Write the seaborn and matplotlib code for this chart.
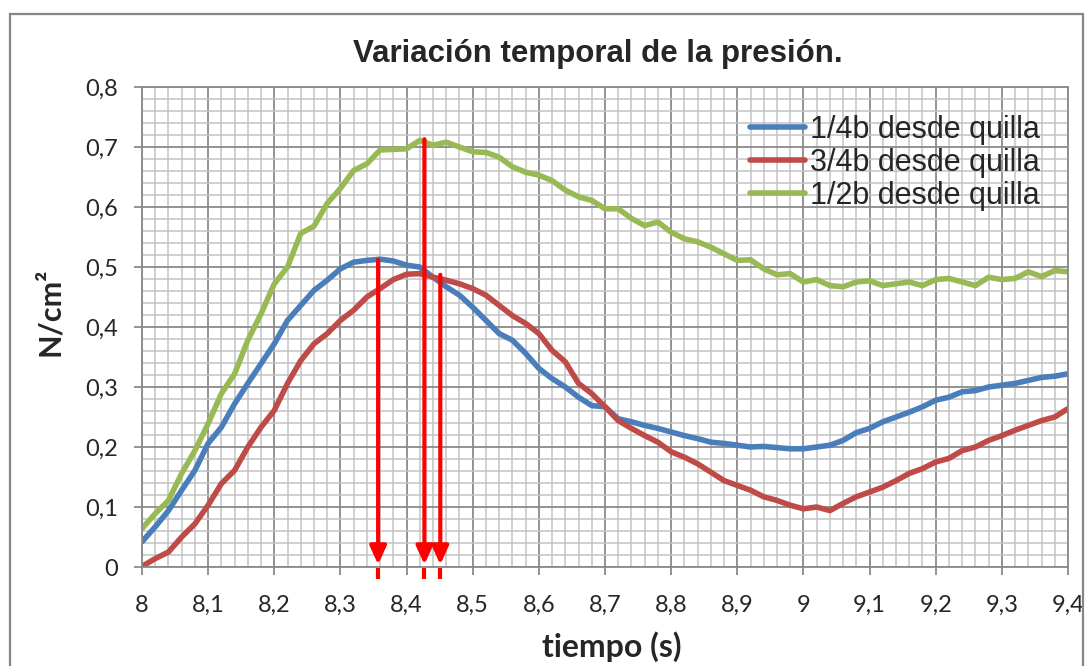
import numpy as np
import pandas as pd
import matplotlib
matplotlib.use("Agg")
import matplotlib.pyplot as plt
import matplotlib.patches as mpatches
from matplotlib.ticker import MultipleLocator, FuncFormatter
import seaborn as sns

# ---------------- data ----------------
tiempo = [8.00, 8.02, 8.04, 8.06, 8.08, 8.10, 8.12, 8.14, 8.16, 8.18,
          8.20, 8.22, 8.24, 8.26, 8.28, 8.30, 8.32, 8.34, 8.36, 8.38,
          8.40, 8.42, 8.44, 8.46, 8.48, 8.50, 8.52, 8.54, 8.56, 8.58,
          8.60, 8.62, 8.64, 8.66, 8.68, 8.70, 8.72, 8.74, 8.76, 8.78,
          8.80, 8.82, 8.84, 8.86, 8.88, 8.90, 8.92, 8.94, 8.96, 8.98,
          9.00, 9.02, 9.04, 9.06, 9.08, 9.10, 9.12, 9.14, 9.16, 9.18,
          9.20, 9.22, 9.24, 9.26, 9.28, 9.30, 9.32, 9.34, 9.36, 9.38,
          9.40]

p_cuarto = [0.042, 0.067, 0.094, 0.128, 0.161, 0.206, 0.233, 0.272, 0.306, 0.339,
            0.372, 0.411, 0.436, 0.461, 0.478, 0.497, 0.508, 0.511, 0.513, 0.510,
            0.503, 0.500, 0.483, 0.467, 0.453, 0.433, 0.411, 0.389, 0.378, 0.356,
            0.331, 0.314, 0.300, 0.283, 0.269, 0.267, 0.247, 0.242, 0.236, 0.231,
            0.225, 0.219, 0.214, 0.208, 0.206, 0.203, 0.200, 0.201, 0.199, 0.197,
            0.197, 0.200, 0.203, 0.211, 0.224, 0.231, 0.242, 0.250, 0.258, 0.267,
            0.278, 0.283, 0.292, 0.294, 0.300, 0.303, 0.306, 0.311, 0.316, 0.318,
            0.322]

p_tres_cuartos = [0.001, 0.014, 0.025, 0.050, 0.072, 0.103, 0.139, 0.161, 0.200, 0.233,
                  0.261, 0.306, 0.344, 0.372, 0.389, 0.411, 0.428, 0.450, 0.464, 0.479,
                  0.488, 0.489, 0.483, 0.478, 0.472, 0.464, 0.453, 0.436, 0.419, 0.406,
                  0.389, 0.361, 0.342, 0.306, 0.289, 0.267, 0.244, 0.231, 0.219, 0.208,
                  0.192, 0.183, 0.172, 0.158, 0.144, 0.136, 0.128, 0.117, 0.111, 0.103,
                  0.097, 0.100, 0.094, 0.106, 0.117, 0.125, 0.133, 0.144, 0.156, 0.164,
                  0.175, 0.181, 0.194, 0.200, 0.211, 0.219, 0.228, 0.236, 0.244, 0.250,
                  0.264]

p_medio = [0.064, 0.089, 0.111, 0.156, 0.194, 0.239, 0.289, 0.322, 0.378, 0.422,
           0.472, 0.500, 0.556, 0.568, 0.606, 0.631, 0.661, 0.672, 0.695, 0.696,
           0.697, 0.711, 0.703, 0.708, 0.700, 0.692, 0.691, 0.683, 0.667, 0.658,
           0.653, 0.644, 0.628, 0.617, 0.611, 0.597, 0.597, 0.581, 0.569, 0.575,
           0.558, 0.547, 0.542, 0.533, 0.522, 0.511, 0.512, 0.497, 0.487, 0.489,
           0.475, 0.479, 0.469, 0.467, 0.475, 0.477, 0.469, 0.472, 0.475, 0.469,
           0.479, 0.481, 0.475, 0.469, 0.483, 0.479, 0.481, 0.492, 0.484, 0.494,
           0.492]

series_labels = ["1/4b desde quilla", "3/4b desde quilla", "1/2b desde quilla"]
series_colors = ["#4A7EBB", "#BE4B48", "#98B954"]

# arrows marking peak times
arrow_x = [8.357, 8.427, 8.451]
arrow_top = [0.512, 0.713, 0.487]

x_ticks = [8.0, 8.1, 8.2, 8.3, 8.4, 8.5, 8.6, 8.7, 8.8, 8.9, 9.0, 9.1, 9.2, 9.3, 9.4]
y_ticks = [0.0, 0.1, 0.2, 0.3, 0.4, 0.5, 0.6, 0.7, 0.8]

df = pd.concat([
    pd.DataFrame({"tiempo": tiempo, "presion": vals, "serie": lab})
    for vals, lab in zip([p_cuarto, p_tres_cuartos, p_medio], series_labels)
], ignore_index=True)

# ---------------- style ----------------
sns.set_style("white")
plt.rcParams["font.family"] = ["Liberation Sans", "DejaVu Sans"]

W, H = 1089, 666
fig = plt.figure(figsize=(W / 100, H / 100), dpi=100)
fig.patch.set_facecolor("white")

# outer chart border
fig.patches.append(mpatches.Rectangle((10 / W, -0.02), (1083 - 10) / W, 1.02 - 14 / H,
                                      transform=fig.transFigure, fill=False,
                                      edgecolor="#868686", linewidth=1.6))

ax = fig.add_axes([142 / W, 1 - 567 / H, (1068 - 142) / W, (567 - 87) / H])

sns.lineplot(data=df, x="tiempo", y="presion", hue="serie", hue_order=series_labels,
             palette=series_colors, linewidth=4, ax=ax, legend=True)

ax.set_xlim(x_ticks[0], x_ticks[-1])
ax.set_ylim(y_ticks[0], y_ticks[-1])
ax.set_xticks(x_ticks)
ax.set_yticks(y_ticks)
ax.xaxis.set_minor_locator(MultipleLocator(0.02))
ax.yaxis.set_minor_locator(MultipleLocator(0.02))

fmt = FuncFormatter(lambda v, p: ("%g" % round(v, 1)).replace(".", ","))
ax.xaxis.set_major_formatter(fmt)
ax.yaxis.set_major_formatter(fmt)

ax.set_axisbelow(True)
ax.grid(which="minor", color="#c3c3c3", linewidth=1.1)
ax.grid(which="major", color="#8a8a8a", linewidth=1.3)
for s in ax.spines.values():
    s.set_color("#8a8a8a")
    s.set_linewidth(1.3)

ax.tick_params(which="major", direction="out", length=6, width=1.3, color="#8a8a8a",
               labelsize=17, bottom=True, left=True)
ax.tick_params(which="minor", length=0)
ax.tick_params(axis="x", pad=14)
ax.tick_params(axis="y", pad=11)
for lab in ax.get_xticklabels() + ax.get_yticklabels():
    lab.set_family(["Lato", "DejaVu Sans"])

ax.set_xlabel("")
ax.set_ylabel("")

# arrows
for xa, ya in zip(arrow_x, arrow_top):
    ax.annotate("", xy=(xa, 0.004), xytext=(xa, ya),
                arrowprops=dict(arrowstyle="-|>,head_length=0.55,head_width=0.25",
                                color="#FF0000", lw=3, shrinkA=0, shrinkB=0,
                                mutation_scale=20),
                annotation_clip=False)
    ax.plot([xa, xa], [-0.001, -0.02], color="#FF0000", lw=3, clip_on=False,
            solid_capstyle="butt")

# legend
handles, labels = ax.get_legend_handles_labels()
leg = ax.legend(handles, labels, loc="center left",
                bbox_to_anchor=(750 / W, 1 - 163 / H), bbox_transform=fig.transFigure,
                frameon=False, fontsize=22, borderpad=0, borderaxespad=0,
                handlelength=1.8, handletextpad=0.15, labelspacing=0.1)
for lh in leg.get_lines():
    lh.set_linewidth(4)

# texts
fig.text(598 / W, 1 - 62 / H, "Variación temporal de la presión.", ha="center",
         va="baseline", fontsize=22.5, fontweight="bold")
fig.text(612 / W, 1 - 657 / H, "tiempo (s)", ha="center", va="baseline",
         fontsize=23, fontweight="bold", family=["Lato", "DejaVu Sans"])
fig.text(50 / W, 1 - 312 / H, "N/cm²", ha="center", va="center", rotation=90,
         fontsize=22, fontweight="bold", family=["Lato", "DejaVu Sans"])

fig.savefig("out.png", dpi=100, facecolor="white")
